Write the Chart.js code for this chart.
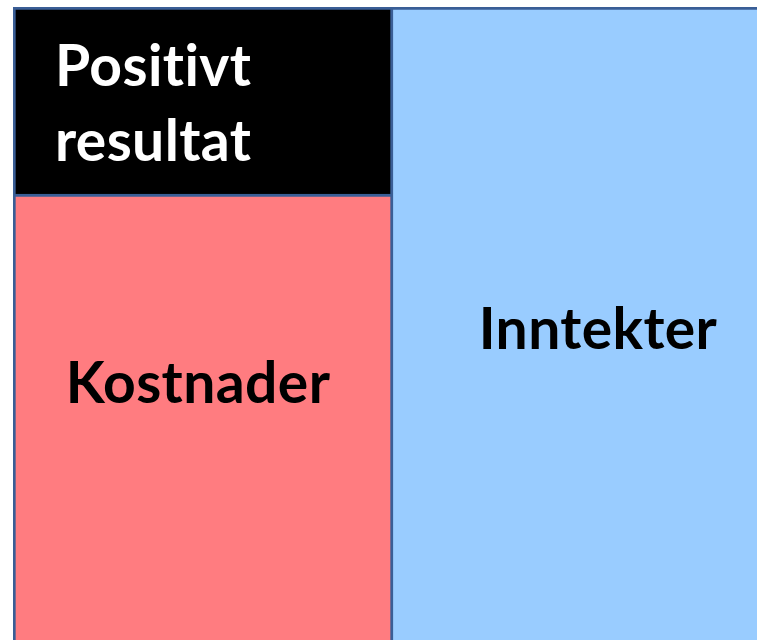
<!DOCTYPE html>
<html>
<head>
<meta charset="utf-8">
<script src="https://cdn.jsdelivr.net/npm/chart.js@4.4.1/dist/chart.umd.min.js"></script>
<style>
  html, body { margin: 0; padding: 0; background: #fff; overflow: hidden; }
  #wrap { position: absolute; left: 0; top: 0; width: 773px; height: 700px; }
</style>
</head>
<body>
<div id="wrap"><canvas id="resultChart" width="773" height="700"></canvas></div>
<script>
// to søyler: venstre = kostnader + resultat, høyre = inntekter
const categories = ["Kostnader og resultat", "Inntekter"];
const kostnader = [73, 0];
const positivtResultat = [27, 0];
const inntekter = [0, 100];

const outline = "#3A5E96";

// tekst inne i søylene, plassert i forhold til søylens midtpunkt
const labelPlugin = {
  id: "barLabels",
  afterDatasetsDraw(chart) {
    const ctx = chart.ctx;
    const texts = [
      { ds: 0, idx: 0, lines: ["Kostnader"], color: "#000", align: "center", dx: -5, dy: [-44] },
      { ds: 1, idx: 0, lines: ["Positivt", "resultat"], color: "#fff", align: "left", dx: 42, dy: [-15, 60] },
      { ds: 2, idx: 1, lines: ["Inntekter"], color: "#000", align: "center", dx: 15, dy: [-5] }
    ];
    ctx.save();
    ctx.font = "bold 57px Lato";
    ctx.letterSpacing = "0.4px";
    ctx.textBaseline = "alphabetic";
    texts.forEach(t => {
      const bar = chart.getDatasetMeta(t.ds).data[t.idx];
      const cy = (bar.y + bar.base) / 2;
      const left = bar.x - bar.width / 2;
      ctx.fillStyle = t.color;
      ctx.textAlign = t.align;
      t.lines.forEach((line, i) => {
        const x = t.align === "left" ? left + t.dx : bar.x + t.dx;
        ctx.fillText(line, x, cy + t.dy[i]);
      });
    });
    ctx.restore();
  }
};

new Chart(document.getElementById("resultChart"), {
  type: "bar",
  data: {
    labels: categories,
    datasets: [
      { label: "Kostnader", data: kostnader, backgroundColor: "#FF7C80", borderColor: outline, borderWidth: 3, borderSkipped: false },
      { label: "Positivt resultat", data: positivtResultat, backgroundColor: "#000000", borderColor: outline, borderWidth: 3, borderSkipped: "bottom" },
      { label: "Inntekter", data: inntekter, backgroundColor: "#99CCFF", borderColor: outline, borderWidth: 3, borderSkipped: "left" }
    ]
  },
  options: {
    responsive: false,
    animation: false,
    layout: { padding: { left: 13, top: 7, right: 0, bottom: 0 } },
    datasets: { bar: { categoryPercentage: 1, barPercentage: 1 } },
    scales: {
      x: { stacked: true, display: false },
      y: { stacked: true, display: false, min: 0, max: 100 }
    },
    plugins: { legend: { display: false }, tooltip: { enabled: false } }
  },
  plugins: [labelPlugin]
});
</script>
</body>
</html>
